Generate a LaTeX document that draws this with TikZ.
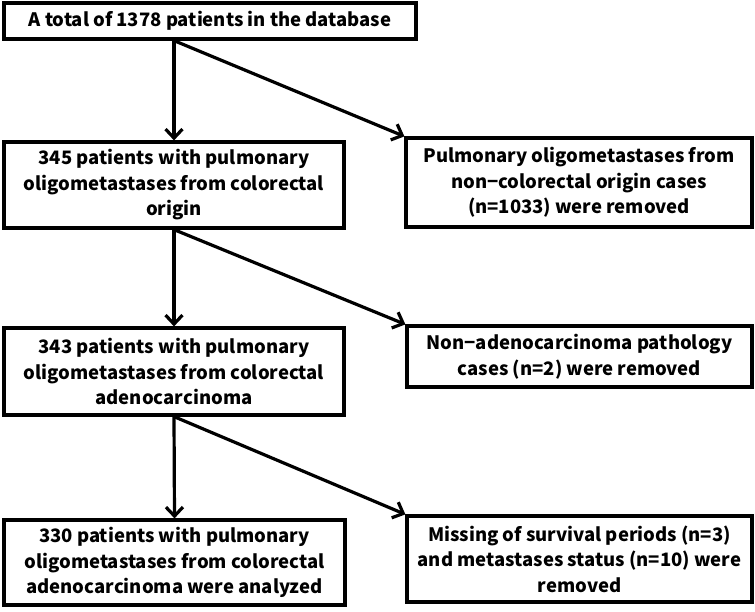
\documentclass[tikz,border=0pt]{standalone}
\usepackage{fontspec}
\setmainfont{Noto Sans CJK JP}
\usetikzlibrary{arrows.meta}

\begin{document}
\begin{tikzpicture}[x=1pt, y=-1pt,
    box/.style={draw, rectangle, line width=3.2pt, inner sep=0pt, align=center,
      font=\fontsize{18.5}{25.5}\selectfont\bfseries},
    flow/.style={->, line width=3.2pt},
    >={Straight Barb[length=9pt, width=17pt]}]
		\useasboundingbox (0,0) rectangle (755,611);
		
		% Left column
		\node[box, minimum width=412pt, minimum height=36pt] (total) at (210,21) {A total of 1378 patients in the database};
		\node[box, minimum width=340pt, minimum height=86pt] (origin) at (174,185) {345 patients with pulmonary\\oligometastases from colorectal\\origin};
		\node[box, minimum width=340pt, minimum height=87pt] (adeno) at (174,371.5) {343 patients with pulmonary\\oligometastases from colorectal\\adenocarcinoma};
		\node[box, minimum width=341pt, minimum height=85pt] (analyzed) at (174.5,562.5) {330 patients with pulmonary\\oligometastases from colorectal\\adenocarcinoma were analyzed};
		
		% Right column (removed)
		\node[box, minimum width=346pt, minimum height=89pt] (noncolorectal) at (579,182.5) {Pulmonary oligometastases from\\non−colorectal origin cases\\(n=1033) were removed};
		\node[box, minimum width=345pt, minimum height=61pt] (nonadeno) at (579.5,356.5) {Non−adenocarcinoma pathology\\cases (n=2) were removed};
		\node[box, minimum width=345pt, minimum height=86pt] (missing) at (579.5,559) {Missing of survival periods (n=3)\\and metastases status (n=10) were\\removed};
		
		% Connections
		\draw[flow] (total.south -| origin.north) -- (origin.north);
		\draw[flow] (total.south -| origin.north) -- (noncolorectal.north west);
		\draw[flow] (origin.south) -- (adeno.north);
		\draw[flow] (origin.south) -- (nonadeno.north west);
		\draw[flow] (adeno.south) -- (analyzed.north);
		\draw[flow] (adeno.south) -- (missing.north west);
	\end{tikzpicture}
\end{document}
